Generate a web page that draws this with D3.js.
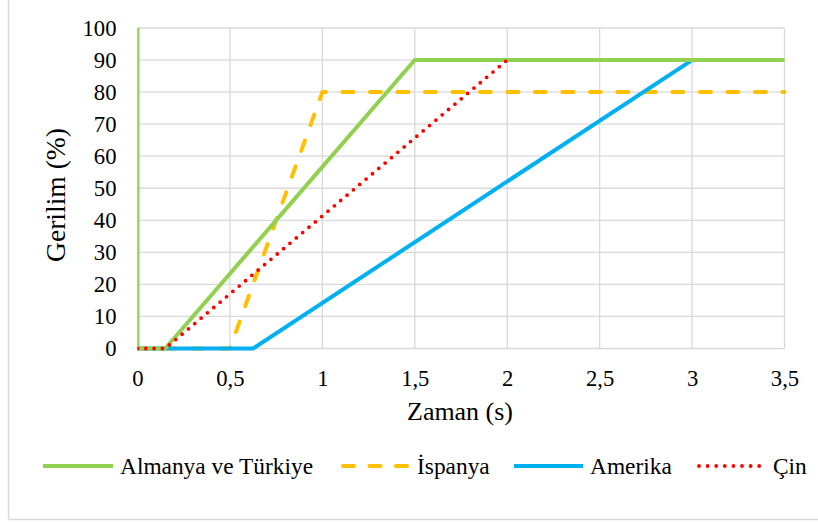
<!DOCTYPE html>
<html>
<head>
<meta charset="utf-8">
<script src="https://cdn.jsdelivr.net/npm/d3@7"></script>
<style>
  html, body { margin: 0; padding: 0; background: #fff; }
  svg { display: block; }
</style>
</head>
<body>
<svg id="chart" width="818" height="523"></svg>
<script>
// Time (s) / strain (%) breakpoints for each country's ramp
const almanyaX = [0, 0, 0.15, 1.5, 3.5];
const almanyaY = [100, 0, 0, 90, 90];
const ispanyaX = [0, 0.5, 1, 3.5];
const ispanyaY = [0, 0, 80, 80];
const amerikaX = [0, 0.625, 3];
const amerikaY = [0, 0, 90];
const cinX = [0, 0.15, 2];
const cinY = [0, 0, 90];

const xTicks = [0, 0.5, 1, 1.5, 2, 2.5, 3, 3.5];
const yTicks = [0, 10, 20, 30, 40, 50, 60, 70, 80, 90, 100];
const seriesNames = ["Almanya ve Türkiye", "İspanya", "Amerika", "Çin"];

const FONT = "'Liberation Serif', 'Times New Roman', 'DejaVu Serif', serif";

const svg = d3.select("#chart");
const plot = { left: 137.5, right: 784.5, top: 28, bottom: 348.5 };

const x = d3.scaleLinear().domain([0, 3.5]).range([plot.left, plot.right]);
const y = d3.scaleLinear().domain([0, 100]).range([plot.bottom, plot.top]);

// scale a text's font size so that it spans the given width
function fitSize(str, width, base = 20) {
  const t = svg.append("text").style("font-family", FONT).style("font-size", base + "px").text(str);
  const w = t.node().getComputedTextLength();
  t.remove();
  return w > 0 ? base * width / w : base;
}

const tickSize = fitSize("100", 34);

// outer frame (left and bottom edges visible)
svg.append("line").attr("x1", 8.5).attr("x2", 8.5).attr("y1", 0).attr("y2", 519.5)
  .attr("stroke", "#d9d9d9").attr("stroke-width", 1.5);
svg.append("line").attr("x1", 8.5).attr("x2", 818).attr("y1", 519.5).attr("y2", 519.5)
  .attr("stroke", "#d9d9d9").attr("stroke-width", 1.5);

// gridlines
const grid = svg.append("g");
grid.selectAll("line.h").data(yTicks).join("line").attr("class", "h")
  .attr("x1", plot.left).attr("x2", plot.right)
  .attr("y1", d => y(d)).attr("y2", d => y(d))
  .attr("stroke", "#d9d9d9").attr("stroke-width", 1.3);
grid.selectAll("line.v").data(xTicks).join("line").attr("class", "v")
  .attr("y1", plot.top).attr("y2", plot.bottom)
  .attr("x1", d => x(d)).attr("x2", d => x(d))
  .attr("stroke", "#d9d9d9").attr("stroke-width", 1.3);

// axes (labels only, lines hidden)
const fmt = d => String(d).replace(".", ",");
const xAxis = svg.append("g").attr("transform", `translate(0,${plot.bottom})`)
  .call(d3.axisBottom(x).tickValues(xTicks).tickFormat(fmt).tickSize(0));
const yAxis = svg.append("g").attr("transform", `translate(${plot.left},0)`)
  .call(d3.axisLeft(y).tickValues(yTicks).tickSize(0).tickPadding(21));
[xAxis, yAxis].forEach(a => {
  a.select(".domain").remove();
  a.selectAll("text").style("font-family", FONT).style("font-size", tickSize + "px").attr("fill", "#000");
});
xAxis.selectAll("text").attr("dy", 0).attr("y", 37.5);

// axis titles
svg.append("text").attr("x", 460).attr("y", 420)
  .attr("text-anchor", "middle").style("font-family", FONT)
  .style("font-size", fitSize("Zaman (s)", 106) + "px").attr("fill", "#000")
  .text("Zaman (s)");
svg.append("text").attr("transform", "translate(65,195) rotate(-90)")
  .attr("text-anchor", "middle").style("font-family", FONT)
  .style("font-size", fitSize("Gerilim (%)", 134) + "px").attr("fill", "#000")
  .text("Gerilim (%)");

const line = d3.line().x(d => x(d[0])).y(d => y(d[1]));
const zip = (xs, ys) => xs.map((v, i) => [v, ys[i]]);

const styles = {
  almanya: { color: "#92d050", width: 4, dash: null, cap: "butt" },
  ispanya: { color: "#ffc000", width: 4, dash: "11,16.5", cap: "round" },
  amerika: { color: "#00b0f0", width: 4, dash: null, cap: "butt" },
  cin: { color: "#ff0000", width: 3.8, dash: "0,8.3", cap: "round" }
};

// series are clipped on the left at the value axis
svg.append("clipPath").attr("id", "plotClip").append("rect")
  .attr("x", plot.left).attr("y", plot.top - 6)
  .attr("width", plot.right - plot.left + 6).attr("height", plot.bottom - plot.top + 12);
const series = svg.append("g").attr("clip-path", "url(#plotClip)");

const drawSeries = (pts, st) => {
  series.append("path").datum(pts).attr("d", line)
    .attr("fill", "none").attr("stroke", st.color).attr("stroke-width", st.width)
    .attr("stroke-linejoin", "round").attr("stroke-linecap", st.cap)
    .attr("stroke-dasharray", st.dash);
};

drawSeries(zip(ispanyaX, ispanyaY), styles.ispanya);
drawSeries(zip(amerikaX, amerikaY), styles.amerika);
drawSeries(zip(almanyaX, almanyaY), styles.almanya);
drawSeries(zip(cinX, cinY), styles.cin);

// legend
const legendItems = [
  { name: seriesNames[0], st: styles.almanya, x0: 43, x1: 113, tx: 120, w: 197, dash: null },
  { name: seriesNames[1], st: styles.ispanya, x0: 343, x1: 409, tx: 417, w: 73, dash: "11,15.5" },
  { name: seriesNames[2], st: styles.amerika, x0: 514, x1: 583, tx: 590, w: 82, dash: null },
  { name: seriesNames[3], st: styles.cin, x0: 699, x1: 760, tx: 773, w: 33, dash: "0,8.6" }
];
const ly = 466;
const legendSize = d3.mean(legendItems, it => fitSize(it.name, it.w));
legendItems.forEach(it => {
  svg.append("line").attr("x1", it.x0).attr("x2", it.x1).attr("y1", ly).attr("y2", ly)
    .attr("stroke", it.st.color).attr("stroke-width", it.st.width)
    .attr("stroke-linecap", it.st.cap).attr("stroke-dasharray", it.dash);
  svg.append("text").attr("x", it.tx).attr("y", ly + 8)
    .style("font-family", FONT).style("font-size", legendSize + "px")
    .attr("fill", "#000").text(it.name);
});
</script>
</body>
</html>
